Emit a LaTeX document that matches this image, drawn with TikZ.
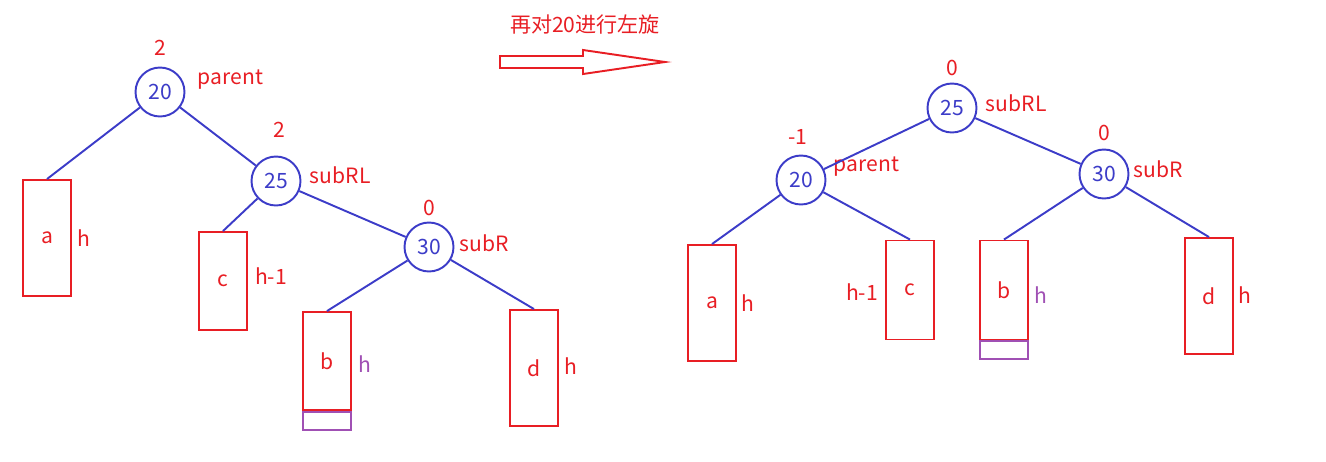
\documentclass[tikz,border=0pt]{standalone}
\usepackage{fontspec}
\setmainfont{Noto Sans CJK SC}
\usetikzlibrary{arrows, shapes, positioning}
\definecolor{treeblue}{RGB}{60,60,200}
\definecolor{treered}{RGB}{232,30,36}
\definecolor{treepurple}{RGB}{160,80,180}
\begin{document}
\begin{tikzpicture}[
            x = 0.02cm, y = -0.02cm, % pixel grid
            font = \fontsize{12}{14}\selectfont,
            line width = 1.1pt, % line style
        ]
 \tikzstyle{keynode}=[
             shape = circle,
             draw = treeblue,
             text = treeblue,
             fill = white,
             minimum size = 0.98cm,
             inner sep = 0pt
        ]
 \tikzstyle{subtree}=[
             draw = treered,
             text = treered,
             minimum width = 0.96cm
        ]
 \tikzstyle{extra}=[draw = treepurple, minimum width = 0.96cm, minimum height = 0.36cm, inner sep = 0pt]
 \tikzstyle{lbl}=[text = treered]
 \tikzstyle{tag}=[text = treered, anchor = west, inner sep = 0pt]
 \tikzstyle{link}=[draw = treeblue]
\useasboundingbox (0,0) rectangle (1326,461);
% left tree
\node[keynode](L20) at (160,92) {20};
\node[keynode](L25) at (276,181) {25};
\node[keynode](L30) at (429,247) {30};
\node[subtree, minimum height = 2.32cm](La) at (47,238) {a};
\node[subtree, minimum height = 1.96cm](Lc) at (223,281) {c};
\node[subtree, minimum height = 1.96cm](Lb) at (327,361) {b};
\node[extra, anchor = north](Lx) at (Lb.south) {};
\node[subtree, minimum height = 2.32cm](Ld) at (534,368) {d};
\node[lbl] at (160,48) {2};
\node[tag] at (197,80) {parent};
\node[lbl] at (279,130) {2};
\node[tag] at (309,175) {subRL};
\node[lbl] at (429,208) {0};
\node[tag] at (459,243) {subR};
\node[lbl] at (84,238) {h};
\node[lbl] at (271,276) {h-1};
\node[text = treepurple] at (365,364) {h};
\node[lbl] at (571,366) {h};
\draw[link] (L20) -- (La.north);
\draw[link] (L20) -- (L25);
\draw[link] (L25) -- (Lc.north);
\draw[link] (L25) -- (L30);
\draw[link] (L30) -- (Lb.north);
\draw[link] (L30) -- (Ld.north);
% rotation arrow
\node[lbl] (rot) at (585,25) {再对20进行左旋};
\draw[treered] (500,56) -- (583,56) -- (583,50) -- (665,62) -- (583,74) -- (583,68) -- (500,68) -- cycle;
% right tree
\node[keynode](R25) at (952,108) {25};
\node[keynode](R20) at (801,180) {20};
\node[keynode](R30) at (1104,174) {30};
\node[subtree, minimum height = 2.32cm](Ra) at (712,303) {a};
\node[subtree, minimum height = 1.98cm](Rc) at (910,290) {c};
\node[subtree, minimum height = 1.98cm](Rb) at (1004,290) {b};
\node[extra, anchor = north](Rx) at (Rb.south) {};
\node[subtree, minimum height = 2.32cm](Rd) at (1209,296) {d};
\node[lbl] at (952,68) {0};
\node[tag] at (985,103) {subRL};
\node[lbl] at (798,137) {-1};
\node[tag] at (833,167) {parent};
\node[lbl] at (1104,133) {0};
\node[tag] at (1133,169) {subR};
\node[lbl] at (748,303) {h};
\node[lbl] at (862,292) {h-1};
\node[text = treepurple] at (1041,295) {h};
\node[lbl] at (1245,295) {h};
\draw[link] (R25) -- (R20);
\draw[link] (R25) -- (R30);
\draw[link] (R20) -- (Ra.north);
\draw[link] (R20) -- (Rc.north);
\draw[link] (R30) -- (Rb.north);
\draw[link] (R30) -- (Rd.north);
\end{tikzpicture}
\end{document}
